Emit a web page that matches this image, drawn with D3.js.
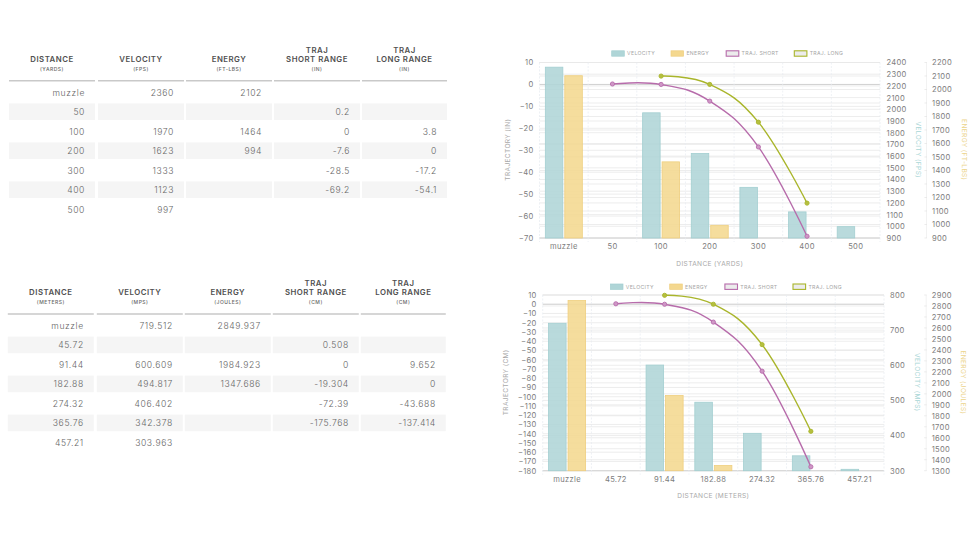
<!DOCTYPE html>
<html lang="en">
<head>
<meta charset="UTF-8">
<title>Ballistics tables and charts</title>
<script src="https://d3js.org/d3.v7.min.js"></script>
<style>
    body {margin: 0; background: #fff;}
    svg {display: block;}
    text {font-family: Inter, "Open Sans", sans-serif;}
    .axis path, .axis line {stroke: none;}
</style>
</head>
<body>
<div id="page"></div>
<script>
// Values
const yardLabels = ["muzzle", "50", "100", "200", "300", "400", "500"];
const fpsVelocity = [2360, null, 1970, 1623, 1333, 1123, 997];
const ftlbEnergy = [2102, null, 1464, 994, null, null, null];
const inShort = [null, 0.2, 0, -7.6, -28.5, -69.2, null];
const inLong = [null, null, 3.8, 0, -17.2, -54.1, null];

const meterLabels = ["muzzle", "45.72", "91.44", "182.88", "274.32", "365.76", "457.21"];
const mpsVelocity = [719.512, null, 600.609, 494.817, 406.402, 342.378, 303.963];
const jouleEnergy = [2849.937, null, 1984.923, 1347.686, null, null, null];
const cmShort = [null, 0.508, 0, -19.304, -72.39, -175.768, null];
const cmLong = [null, null, 9.652, 0, -43.688, -137.414, null];

const yardHeaders = [["DISTANCE"], ["VELOCITY"], ["ENERGY"], ["TRAJ", "SHORT RANGE"], ["TRAJ", "LONG RANGE"]];
const yardUnits = ["(YARDS)", "(FPS)", "(FT-LBS)", "(IN)", "(IN)"];
const meterUnits = ["(METERS)", "(MPS)", "(JOULES)", "(CM)", "(CM)"];
const legendNames = ["VELOCITY", "ENERGY", "TRAJ. SHORT", "TRAJ. LONG"];

const tealFill = "#afd5d7", tealLine = "#a3cfd1", tealText = "#a9d6d6";
const sandFill = "#f4d88f", sandLine = "#efcf7f", sandText = "#ecd48c";
const plum = "#b76cab", plumFill = "#cf97c6", olive = "#a9b52b", oliveFill = "#b5bf3f";
const gridColor = "#e9e9e9", tickColor = "#7d7d7d", titleColor = "#a9a9a9";

const svg = d3.select("#page").append("svg").attr("width", 978).attr("height", 550);

// Table columns
const colLeft = [9, 98, 186, 274, 362];
const colRight = [95, 184, 272, 360, 447];

function drawTable(dx, dy, headers, units, labels, velocity, energy, shortR, longR) {
    const g = svg.append("g").attr("transform", "translate(" + dx + "," + dy + ")");
    const columns = [labels, velocity, energy, shortR, longR];
    const rowY = d3.scaleLinear().domain([0, 6]).range([92.3, 209.3]);

    // stripes on the even rows
    [1, 3, 5].forEach(function(r) {
        colLeft.forEach(function(left, i) {
            g.append("rect").attr("x", left).attr("y", rowY(r) - 8.4)
                .attr("width", colRight[i] - left).attr("height", 16.6).attr("fill", "#f5f5f5");
        });
    });

    columns.forEach(function(values, i) {
        const mid = (colLeft[i] + colRight[i]) / 2;
        const head = headers[i];
        head.forEach(function(line, j) {
            g.append("text").attr("x", mid).attr("y", 62 - (head.length - 1 - j) * 8.8)
                .attr("text-anchor", "middle").attr("font-size", 7.8).attr("font-weight", 600)
                .attr("letter-spacing", 0.5).attr("fill", "#505050").text(line);
        });
        g.append("text").attr("x", mid).attr("y", 71.2).attr("text-anchor", "middle")
            .attr("font-size", 5).attr("font-weight", 500).attr("letter-spacing", 0.5)
            .attr("fill", "#666").text(units[i]);
        g.append("line").attr("x1", colLeft[i]).attr("x2", colRight[i]).attr("y1", 80.8).attr("y2", 80.8)
            .attr("stroke", "#c9c9c9").attr("stroke-width", 1.4);

        values.forEach(function(v, r) {
            if (v === null) return;
            g.append("text").attr("x", colRight[i] - 10).attr("y", rowY(r) + 3.2)
                .attr("text-anchor", "end").attr("font-size", 8.6).attr("font-weight", 300)
                .attr("letter-spacing", 0.6).attr("fill", "#666").text(v);
        });
    });
}

function drawChart(c) {
    const g = svg.append("g");
    const x = d3.scaleBand().domain(c.labels).range([c.left, c.right]);
    const x1 = d3.scaleBand().domain(["velocity", "energy"])
        .range([-0.4 * x.step(), 0.4 * x.step()]).paddingInner(0.1).paddingOuter(0.05);
    const yTraj = d3.scaleLinear().domain(c.trajDomain).range([c.bottom, c.top]);
    const yVel = d3.scaleLinear().domain(c.velDomain).range([c.bottom, c.top]);
    const yEn = d3.scaleLinear().domain(c.enDomain).range([c.bottom, c.top]);

    // horizontal grid comes from all three y axes
    [[yTraj, c.trajTicks], [yVel, c.velTicks], [yEn, c.enTicks]].forEach(function(a) {
        g.selectAll(null).data(a[1]).enter().append("line")
            .attr("x1", c.left).attr("x2", c.right)
            .attr("y1", function(d) { return a[0](d); }).attr("y2", function(d) { return a[0](d); })
            .attr("stroke", gridColor).attr("stroke-width", 0.8);
    });
    g.append("line").attr("x1", c.left).attr("x2", c.right)
        .attr("y1", yTraj(0)).attr("y2", yTraj(0)).attr("stroke", "#d2d2d2").attr("stroke-width", 1);
    g.append("line").attr("x1", c.left).attr("x2", c.right)
        .attr("y1", c.bottom).attr("y2", c.bottom).attr("stroke", "#d6d6d6").attr("stroke-width", 1);

    // vertical grid at the band edges
    g.selectAll(null).data(c.labels.concat(["end"])).enter().append("line")
        .attr("x1", function(d, i) { return c.left + i * x.step(); })
        .attr("x2", function(d, i) { return c.left + i * x.step(); })
        .attr("y1", c.top).attr("y2", c.bottom + 4)
        .attr("stroke", "#e6ebf0").attr("stroke-width", 0.7).attr("stroke-dasharray", "2,1.5");

    // bars
    const bars = [["velocity", c.velocity, yVel, tealFill, tealLine], ["energy", c.energy, yEn, sandFill, sandLine]];
    bars.forEach(function(b) {
        g.selectAll(null).data(c.labels.map(function(l, i) { return {label: l, value: b[1][i]}; })
                .filter(function(d) { return d.value !== null; }))
            .enter().append("rect")
            .attr("x", function(d) { return x(d.label) + x.bandwidth() / 2 + x1(b[0]); })
            .attr("y", function(d) { return b[2](d.value); })
            .attr("width", x1.bandwidth())
            .attr("height", function(d) { return c.bottom - b[2](d.value); })
            .attr("fill", b[3]).attr("fill-opacity", 0.88).attr("stroke", b[4]).attr("stroke-width", 0.8);
    });

    // trajectory lines
    const line = d3.line()
        .x(function(d) { return x(d.label) + x.bandwidth() / 2; })
        .y(function(d) { return yTraj(d.value); })
        .curve(d3.curveCardinal.tension(-0.2));
    [[c.trajLong, olive, oliveFill], [c.trajShort, plum, plumFill]].forEach(function(s) {
        const pts = c.labels.map(function(l, i) { return {label: l, value: s[0][i]}; })
            .filter(function(d) { return d.value !== null; });
        g.append("path").attr("d", line(pts)).attr("fill", "none").attr("stroke", s[1]).attr("stroke-width", 1.4);
        g.selectAll(null).data(pts).enter().append("circle")
            .attr("cx", function(d) { return x(d.label) + x.bandwidth() / 2; })
            .attr("cy", function(d) { return yTraj(d.value); })
            .attr("r", 2.1).attr("fill", s[2]).attr("stroke", s[1]).attr("stroke-width", 0.9);
    });

    // axes
    function styleAxis(sel) {
        sel.attr("class", "axis");
        sel.selectAll("text").attr("font-size", 7.6).attr("letter-spacing", 0.3).attr("fill", tickColor);
    }
    const plain = d3.format("d");
    g.append("g").attr("transform", "translate(0," + c.bottom + ")")
        .call(d3.axisBottom(x).tickSize(0).tickPadding(6)).call(styleAxis);
    g.append("g").attr("transform", "translate(" + (c.left - 3) + ",0)")
        .call(d3.axisLeft(yTraj).tickValues(c.trajTicks).tickFormat(plain).tickSize(0).tickPadding(3)).call(styleAxis);
    g.append("g").attr("transform", "translate(" + c.velX + ",0)")
        .call(d3.axisRight(yVel).tickValues(c.velTicks).tickFormat(plain).tickSize(0).tickPadding(0)).call(styleAxis);
    const enAxis = g.append("g").attr("transform", "translate(" + c.enX + ",0)")
        .call(d3.axisRight(yEn).tickValues(c.enTicks).tickFormat(plain).tickSize(0).tickPadding(0)).call(styleAxis);
    enAxis.append("line").attr("x1", -5.5).attr("x2", -5.5).attr("y1", c.top).attr("y2", c.bottom)
        .style("stroke", "#ececec").attr("stroke-width", 0.7);
    g.selectAll(null).data(c.enTicks).enter().append("line")
        .attr("x1", c.enX - 7.5).attr("x2", c.enX - 5)
        .attr("y1", function(d) { return yEn(d); }).attr("y2", function(d) { return yEn(d); })
        .attr("stroke", "#e4e4e4").attr("stroke-width", 0.7);

    // axis titles
    function sideTitle(px, py, rotate, label, color) {
        g.append("text").attr("transform", "translate(" + px + "," + py + ") rotate(" + rotate + ")")
            .attr("text-anchor", "middle").attr("dominant-baseline", "middle")
            .attr("font-size", 6.6).attr("letter-spacing", 0.35).attr("fill", color).text(label);
    }
    const midY = (c.top + c.bottom) / 2;
    sideTitle(c.trajTitleX, midY - 0.5, -90, c.trajTitle, titleColor);
    sideTitle(c.velTitleX, midY - 0.5, 90, c.velTitle, tealText);
    sideTitle(c.enTitleX, midY - 0.5, 90, c.enTitle, sandText);
    g.append("text").attr("x", (c.left + c.right) / 2).attr("y", c.bottom + 27.5)
        .attr("text-anchor", "middle").attr("font-size", 6.6).attr("letter-spacing", 0.35)
        .attr("fill", titleColor).text(c.xTitle);

    // legend
    const legendX = [0, 59.3, 114.5, 182.6];
    const legendFill = [tealFill, sandFill, "#ececec", "#ececec"];
    const legendStroke = [tealLine, sandLine, plum, olive];
    legendNames.forEach(function(name, i) {
        const lx = c.legendX + legendX[i];
        g.append("rect").attr("x", lx).attr("y", c.legendY - 2.7).attr("width", 12.6).attr("height", 5.4)
            .attr("fill", legendFill[i]).attr("stroke", legendStroke[i]).attr("stroke-width", i > 1 ? 1.1 : 0.7);
        g.append("text").attr("x", lx + 15.4).attr("y", c.legendY + 1.9)
            .attr("font-size", 5.2).attr("letter-spacing", 0.3).attr("fill", "#a5a5a5").text(name);
    });
}

drawTable(0, 0, yardHeaders, yardUnits, yardLabels, fpsVelocity, ftlbEnergy, inShort, inLong);
drawTable(-1.2, 233.2, yardHeaders, meterUnits, meterLabels, mpsVelocity, jouleEnergy, cmShort, cmLong);

drawChart({
    labels: yardLabels, velocity: fpsVelocity, energy: ftlbEnergy, trajShort: inShort, trajLong: inLong,
    left: 539.5, right: 880, top: 62.5, bottom: 238,
    trajDomain: [-70, 10], velDomain: [900, 2400], enDomain: [900, 2200],
    trajTicks: d3.range(-70, 11, 10), velTicks: d3.range(900, 2401, 100), enTicks: d3.range(900, 2201, 100),
    velX: 886.5, enX: 932, trajTitleX: 508, velTitleX: 918, enTitleX: 964,
    trajTitle: "TRAJECTORY (IN)", velTitle: "VELOCITY (FPS)", enTitle: "ENERGY (FT-LBS)", xTitle: "DISTANCE (YARDS)",
    legendX: 611.7, legendY: 53.5
});

drawChart({
    labels: meterLabels, velocity: mpsVelocity, energy: jouleEnergy, trajShort: cmShort, trajLong: cmLong,
    left: 542.7, right: 884, top: 295, bottom: 470.7,
    trajDomain: [-180, 10], velDomain: [300, 800], enDomain: [1300, 2900],
    trajTicks: d3.range(-180, 11, 10), velTicks: d3.range(300, 801, 100), enTicks: d3.range(1300, 2901, 100),
    velX: 890, enX: 931.7, trajTitleX: 506.7, velTitleX: 916.7, enTitleX: 963,
    trajTitle: "TRAJECTORY (CM)", velTitle: "VELOCITY (MPS)", enTitle: "ENERGY (JOULES)", xTitle: "DISTANCE (METERS)",
    legendX: 610.4, legendY: 286.7
});
</script>
</body>
</html>
